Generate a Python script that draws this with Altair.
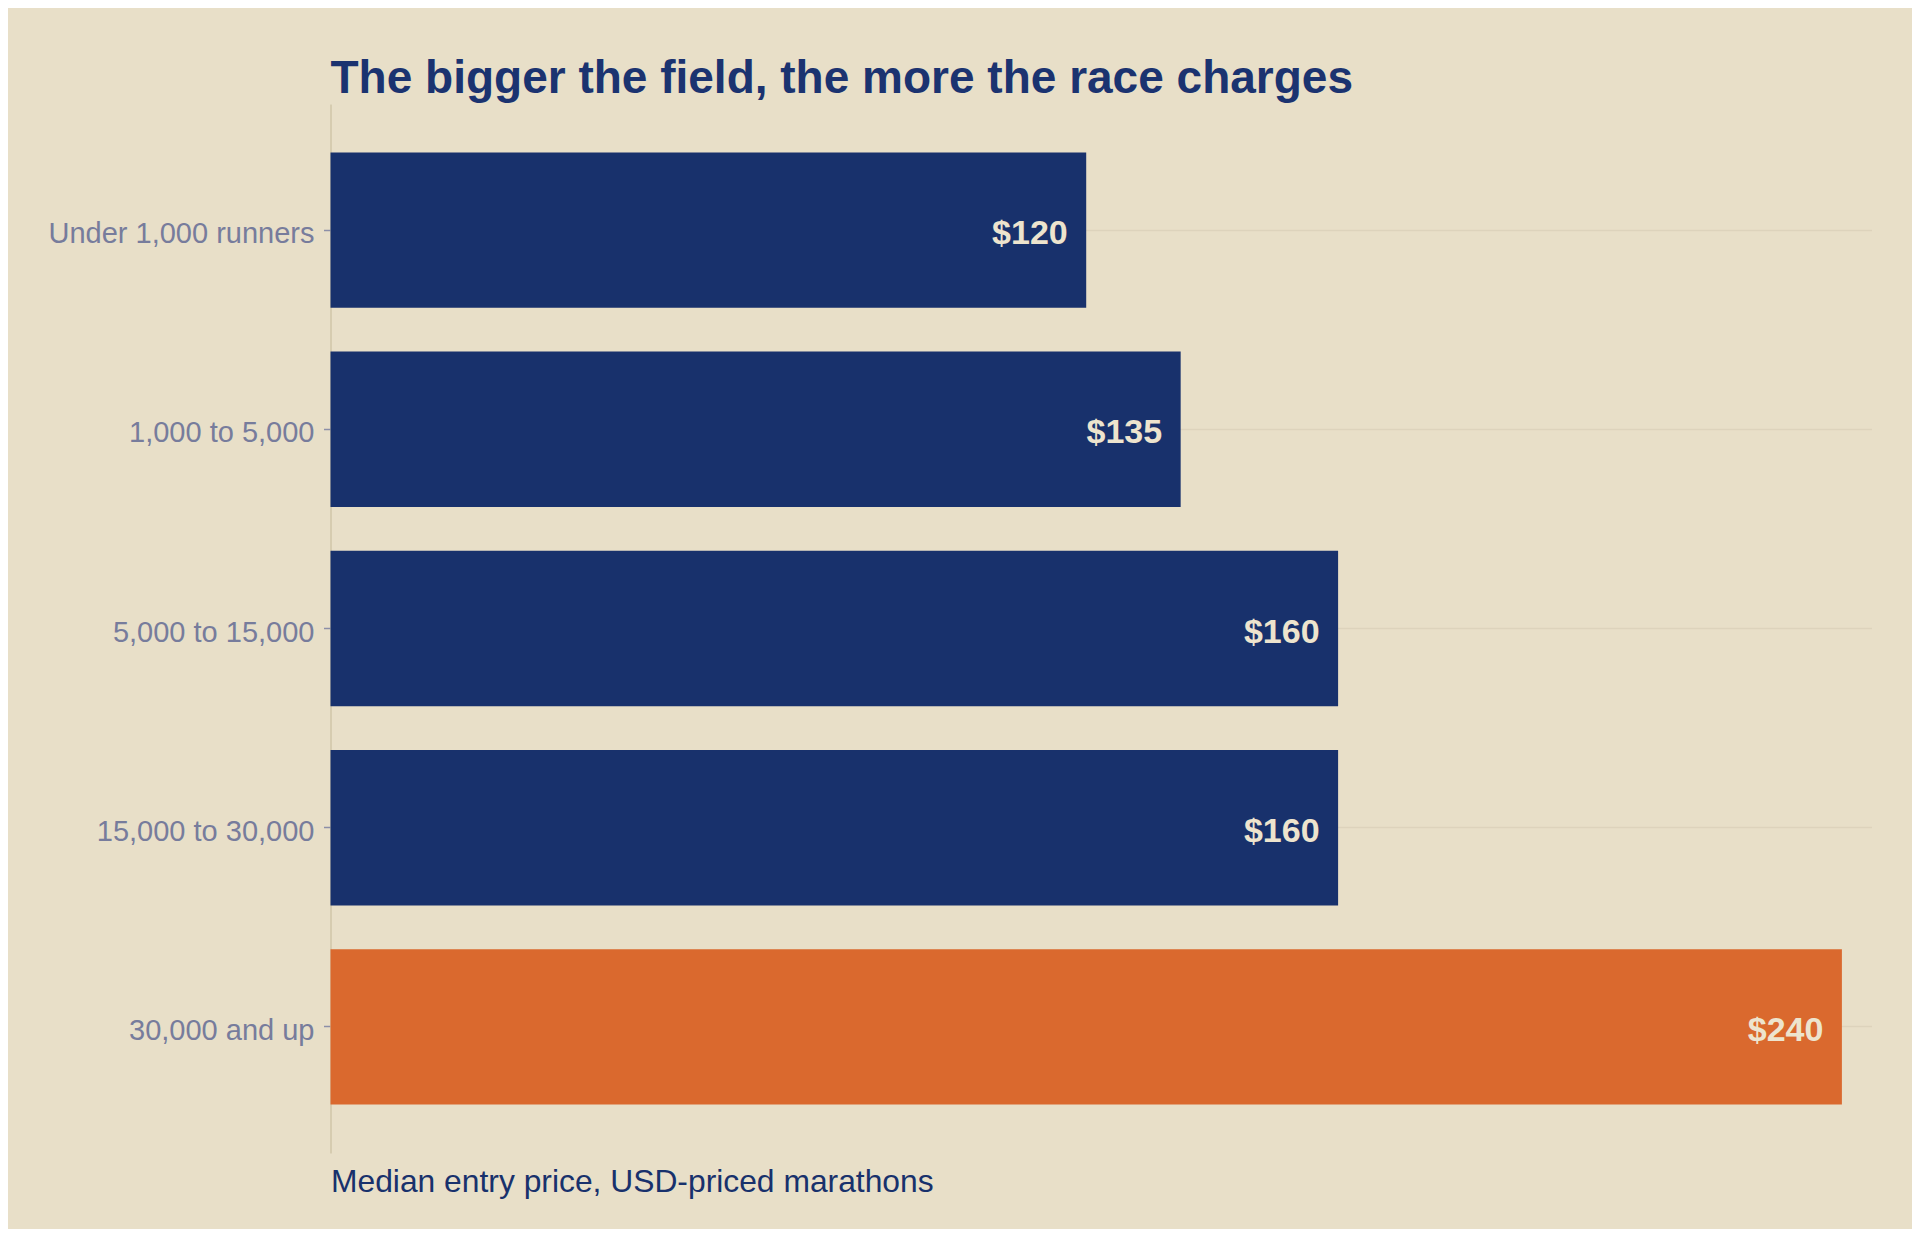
import altair as alt
import pandas as pd

categories = ["Under 1,000 runners", "1,000 to 5,000", "5,000 to 15,000",
              "15,000 to 30,000", "30,000 and up"]
prices = [120, 135, 160, 160, 240]
groups = ["other", "other", "other", "other", "largest"]

df = pd.DataFrame({"category": categories, "price": prices, "group": groups})

BG = "#E8DFC8"
NAVY = "#18316C"
ORANGE = "#DA692E"
LIGHT = "#EDE4CE"
LABEL = "#777C9C"
FONT = "Liberation Sans"

y_enc = alt.Y(
    "category:N",
    sort=categories,
    scale=alt.Scale(paddingInner=0.22, paddingOuter=0.243),
    axis=alt.Axis(
        title=None,
        labelFont=FONT,
        labelFontSize=29,
        labelColor=LABEL,
        labelBaseline="alphabetic",
        labelOffset=13,
        labelPadding=9.5,
        labelLimit=0,
        tickSize=7,
        tickColor="#8C8FA8",
        tickWidth=1.5,
        domainColor="#D0C6A9",
        domainWidth=1.5,
        grid=True,
        gridColor="#DDD3BC",
        gridWidth=1.5,
    ),
)

x_scale = alt.Scale(domain=[0, 244.7], nice=False, zero=True)

base = alt.Chart(df).encode(y=y_enc)

bars = base.mark_bar().encode(
    x=alt.X(
        "price:Q",
        scale=x_scale,
        axis=alt.Axis(
            title="Median entry price, USD-priced marathons",
            labels=False,
            ticks=False,
            domain=False,
            grid=False,
            titleFont=FONT,
            titleFontSize=31.8,
            titleFontWeight="normal",
            titleColor=NAVY,
            titleAnchor="start",
            titleAlign="left",
            titleBaseline="alphabetic",
            titleX=0,
            titleY=38,
        ),
    ),
    color=alt.Color(
        "group:N",
        scale=alt.Scale(domain=["other", "largest"], range=[NAVY, ORANGE]),
        legend=None,
    ),
)

labels = base.mark_text(
    align="right",
    baseline="alphabetic",
    dx=-18.5,
    dy=14,
    font=FONT,
    fontSize=34,
    fontWeight="bold",
    color=LIGHT,
).encode(
    x=alt.X("price:Q", scale=x_scale),
    text=alt.Text("price:Q", format="$,.0f"),
)

chart = (
    alt.layer(bars, labels)
    .properties(
        width=1541,
        height=1049,
        title=alt.TitleParams(
            text="The bigger the field, the more the race charges",
            anchor="start",
            frame="group",
            font=FONT,
            fontSize=46,
            fontWeight="bold",
            color="#1B3370",
            baseline="alphabetic",
            offset=11,
            dy=46,
        ),
        background=BG,
        padding={"left": 322.5, "top": 96, "right": 40.5, "bottom": 76},
        autosize=alt.AutoSizeParams(type="none"),
    )
    .configure_view(stroke=None)
)

chart.save("out.html", embed_options={"renderer": "svg", "actions": False})
